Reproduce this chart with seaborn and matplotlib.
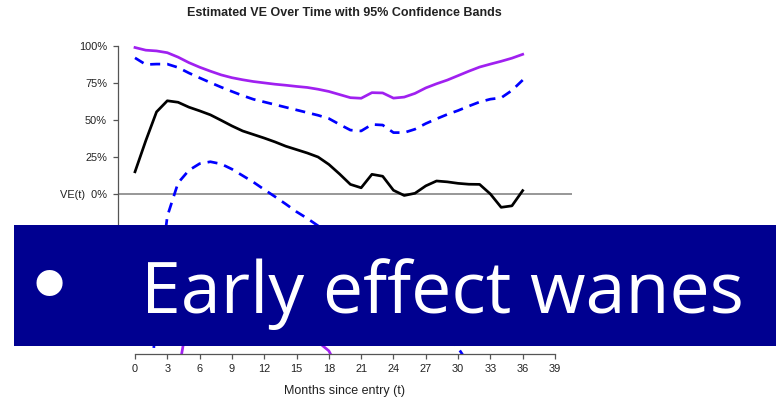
import matplotlib
matplotlib.use("Agg")
import matplotlib.pyplot as plt
from matplotlib.patches import Rectangle
from matplotlib.textpath import TextPath
from matplotlib.font_manager import FontProperties
import seaborn as sns
import pandas as pd

# ---- data: estimated vaccine efficacy (%) by month since entry ----
months = list(range(37))
ve_est = [15, 36, 55.5, 63, 62, 58.7, 56.2, 53.5, 49.8, 46, 42.6, 40.2, 37.8,
          35.2, 32.3, 30, 27.7, 25, 20, 13.5, 6.5, 4.2, 13.3, 12, 2.5, -1,
          0.5, 5.5, 8.8, 8.2, 7.2, 6.6, 6.5, 0, -9, -8, 2.3]
ci_upper = [92, 87.5, 87.8, 87.8, 85.5, 81.8, 78.5, 75.3, 72.2, 69.3, 66.5, 64,
            62.2, 60.4, 58.6, 56.8, 55, 53.2, 51, 47, 43.2, 42.6, 47, 46.6, 41.5,
            41.5, 43.8, 47.6, 50.8, 53.8, 56.4, 59.4, 62.2, 64.1, 65, 70, 77]
ci_lower = [-420, -190, -75, -15, 7.5, 16, 20.5, 21.8, 20.3, 16.8, 12.4, 8, 3,
            -1.8, -6.8, -12, -16.5, -21.5, -28, -35, -42, -47, -45, -50, -62,
            -70, -76, -83, -90, -97, -104, -115, -130, -150, -175, -190, -200]
band_upper = [99, 97.2, 96.7, 95.5, 92.5, 88.8, 85.7, 83, 80.5, 78.6, 77.2, 76,
              75.1, 74.2, 73.5, 72.7, 72, 70.8, 69.3, 67.2, 65.1, 64.7, 68.5,
              68.3, 64.8, 65.5, 68, 71.7, 74.5, 77, 80, 83, 85.8, 87.8, 89.7,
              91.8, 94.4]
band_lower = [-600, -420, -280, -180, -122, -80, -66, -56, -52, -52, -55, -60,
              -66, -72, -79, -86, -93, -100, -106, -120, -140, -160, -160, -175,
              -210, -230, -245, -260, -280, -300, -320, -340, -360, -390, -430,
              -440, -450]

y_ticks = [-100, -75, -50, -25, 0, 25, 50, 75, 100]
y_tick_labels = ["-100%", "-75%", "-50%", "-25%", "VE(t)  0%", "25%", "50%", "75%", "100%"]
x_ticks = list(range(0, 40, 3))

title = "Estimated VE Over Time with 95% Confidence Bands"
x_label = "Months since entry (t)"
banner_text = "Early effect wanes"

plt.rcParams["font.family"] = ["Liberation Sans", "DejaVu Sans"]

series = {
    "band lower": band_lower,
    "band upper": band_upper,
    "CI lower": ci_lower,
    "CI upper": ci_upper,
    "VE": ve_est,
}
df = pd.concat(
    [pd.DataFrame({"month": months, "VE": vals, "series": name}) for name, vals in series.items()],
    ignore_index=True,
)
palette = {"band lower": "#A020F0", "band upper": "#A020F0",
           "CI lower": "#0000FF", "CI upper": "#0000FF", "VE": "#000000"}
dash = (3.7, 2.6)
dashes = {"band lower": "", "band upper": "", "CI lower": dash, "CI upper": dash, "VE": ""}

W, H, DPI = 776, 398, 100
fig = plt.figure(figsize=(W / DPI, H / DPI), dpi=DPI)


def fx(px):
    return px / W


def fy(py):
    return 1 - py / H


ax_left, ax_right, ax_top, ax_bottom = 118.2, 571.8, 34.2, 353.8
ax = fig.add_axes([fx(ax_left), fy(ax_bottom), (ax_right - ax_left) / W, (ax_bottom - ax_top) / H])

ax.axhline(0, color="#7a7a7a", lw=1.1, zorder=1)
sns.lineplot(data=df, x="month", y="VE", hue="series", style="series",
             hue_order=list(series), style_order=list(series),
             palette=palette, dashes=dashes, linewidth=1.95, legend=False,
             estimator=None, ax=ax, zorder=2)
for ln in ax.get_lines():
    ln.set_dash_capstyle("butt")

ax.set_xlim(-1.56, 40.56)
ax.set_ylim(-108, 108)
ax.set_xticks(x_ticks)
ax.set_yticks(y_ticks, y_tick_labels)
for s in ("top", "right"):
    ax.spines[s].set_visible(False)
for s in ("left", "bottom"):
    ax.spines[s].set_color("#555555")
    ax.spines[s].set_linewidth(0.9)
ax.spines["left"].set_bounds(-100, 100)
ax.spines["bottom"].set_bounds(0, 39)
ax.tick_params(axis="both", length=3.6, width=0.9, color="#555555",
               labelsize=7.9, labelcolor="#222222")
ax.tick_params(axis="y", pad=4.5)
ax.tick_params(axis="x", pad=4.0)
ax.set_ylabel("")
ax.set_xlabel(x_label, fontsize=9, color="#222222")
ax.xaxis.set_label_coords(0.5, -0.097)
ax.set_facecolor("white")

fig.text(fx(344.5), fy(13.5), title, ha="center", va="center",
         fontsize=9, fontweight="bold", color="#222222")

# ---- navy call-out banner across the lower half ----
fig.add_artist(Rectangle((fx(14), fy(345.7)), (W - 14) / W, (345.7 - 225) / H,
                         transform=fig.transFigure, facecolor="#000090",
                         edgecolor="none", zorder=5))

px_per_pt = DPI / 72.0

# headline text: sized so its ink spans the text column of the banner
head_prop = FontProperties(family="Open Sans")
ref = TextPath((0, 0), banner_text, size=10, prop=head_prop).get_extents()
head_size = 10 * (741.7 - 148.3) / (ref.width * px_per_pt)
left_bear = ref.x0 * head_size / 10 * px_per_pt
fig.text(fx(148.3 - left_bear), fy(312.7), banner_text, fontproperties=head_prop,
         fontsize=head_size, color="white", ha="left", va="baseline", zorder=6)

# bullet glyph
bul_prop = FontProperties(family="DejaVu Sans")
bref = TextPath((0, 0), "\u2022", size=10, prop=bul_prop).get_extents()
bul_size = 10 * 26 / (bref.height * px_per_pt)
k = bul_size / 10 * px_per_pt
cx_ink = (bref.x0 + bref.x1) / 2 * k
cy_ink = (bref.y0 + bref.y1) / 2 * k
fig.text(fx(49.3 - cx_ink), fy(283.3 + cy_ink), "\u2022", fontproperties=bul_prop,
         fontsize=bul_size, color="white", ha="left", va="baseline", zorder=6)

fig.savefig("out.png", dpi=DPI)
